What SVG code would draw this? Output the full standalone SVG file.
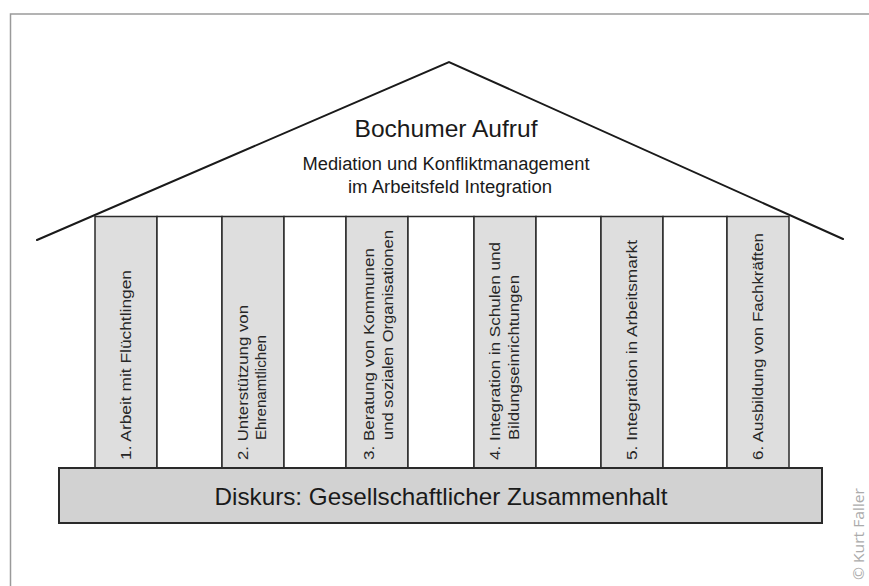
<svg xmlns="http://www.w3.org/2000/svg" width="869" height="586" viewBox="0 0 869 586">
<style>
.frame{stroke:#9a9a9a;stroke-width:1.5;fill:none}
.roof{stroke:#1a1a1a;stroke-width:2;fill:none;stroke-linecap:round}
.col{stroke:#2a2a2a;stroke-width:1.5}
.gray{fill:#dedede}
.white{fill:#ffffff}
.base{fill:#d2d2d2;stroke:#2a2a2a;stroke-width:2}
.cond{font-family:"Liberation Sans Narrow","Liberation Sans",Arial,sans-serif;fill:#1a1a1a;text-anchor:middle}
.ct{font-family:"Liberation Sans",Arial,sans-serif;font-size:15px;fill:#262626}
.copy{font-family:"Open Sans","Liberation Sans",sans-serif;font-size:15px;fill:#ababab}
</style>
<rect width="869" height="586" fill="#ffffff"/>
<path class="frame" d="M10.5 586 V14 H869"/>

<g id="roof">
<path class="roof" d="M37 240 L449 62 L843 239"/>
<text class="cond" x="446" y="137" font-size="24" textLength="183" lengthAdjust="spacingAndGlyphs">Bochumer Aufruf</text>
<text class="cond" x="446" y="170" font-size="18" textLength="287" lengthAdjust="spacingAndGlyphs">Mediation und Konfliktmanagement</text>
<text class="cond" x="450" y="193" font-size="18" textLength="204" lengthAdjust="spacingAndGlyphs">im Arbeitsfeld Integration</text>
</g>

<g id="columns">
<rect class="gray col" x="95" y="216.5" width="62" height="251.5"/>
<rect class="white col" x="157" y="216.5" width="65" height="251.5"/>
<rect class="gray col" x="222" y="216.5" width="62" height="251.5"/>
<rect class="white col" x="284" y="216.5" width="62" height="251.5"/>
<rect class="gray col" x="346" y="216.5" width="62" height="251.5"/>
<rect class="white col" x="408" y="216.5" width="66" height="251.5"/>
<rect class="gray col" x="474" y="216.5" width="62" height="251.5"/>
<rect class="white col" x="536" y="216.5" width="65" height="251.5"/>
<rect class="gray col" x="601" y="216.5" width="62" height="251.5"/>
<rect class="white col" x="663" y="216.5" width="64" height="251.5"/>
<rect class="gray col" x="727" y="216.5" width="62" height="251.5"/>
</g>

<g id="pillar1">
<text class="ct" transform="translate(131 460) rotate(-90)" textLength="190" lengthAdjust="spacingAndGlyphs">1. Arbeit mit Flüchtlingen</text>
</g>
<g id="pillar2">
<text class="ct" transform="translate(248 460) rotate(-90)" textLength="155" lengthAdjust="spacingAndGlyphs">2. Unterstützung von</text>
<text class="ct" transform="translate(266 440) rotate(-90)" textLength="105" lengthAdjust="spacingAndGlyphs">Ehrenamtlichen</text>
</g>
<g id="pillar3">
<text class="ct" transform="translate(374 460) rotate(-90)" textLength="212" lengthAdjust="spacingAndGlyphs">3. Beratung von Kommunen</text>
<text class="ct" transform="translate(393 440) rotate(-90)" textLength="210" lengthAdjust="spacingAndGlyphs">und sozialen Organisationen</text>
</g>
<g id="pillar4">
<text class="ct" transform="translate(500 460) rotate(-90)" textLength="218" lengthAdjust="spacingAndGlyphs">4. Integration in Schulen und</text>
<text class="ct" transform="translate(519 440) rotate(-90)" textLength="165" lengthAdjust="spacingAndGlyphs">Bildungseinrichtungen</text>
</g>
<g id="pillar5">
<text class="ct" transform="translate(637 460) rotate(-90)" textLength="220" lengthAdjust="spacingAndGlyphs">5. Integration in Arbeitsmarkt</text>
</g>
<g id="pillar6">
<text class="ct" transform="translate(763 460) rotate(-90)" textLength="227" lengthAdjust="spacingAndGlyphs">6. Ausbildung von Fachkräften</text>
</g>

<g id="base">
<rect class="base" x="59" y="468" width="763" height="55"/>
<text class="cond" x="441" y="505" font-size="24" textLength="453" lengthAdjust="spacingAndGlyphs">Diskurs: Gesellschaftlicher Zusammenhalt</text>
</g>

<g id="copyright">
<text class="copy" transform="translate(864 580) rotate(-90)" textLength="92" lengthAdjust="spacingAndGlyphs">© Kurt Faller</text>
</g>
</svg>
